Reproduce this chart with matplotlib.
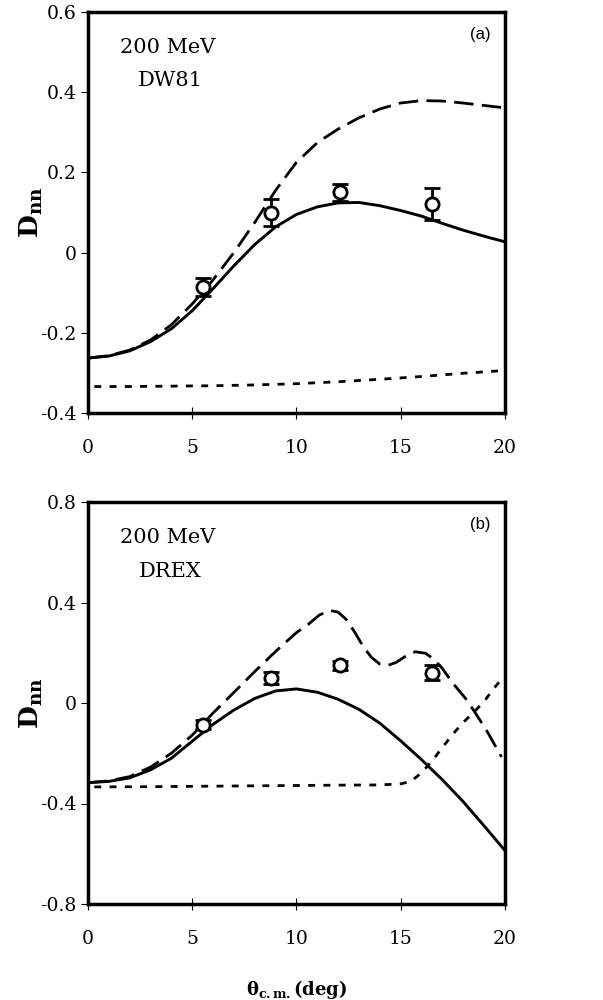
import numpy as np
import matplotlib
matplotlib.use("Agg")
import matplotlib.pyplot as plt

plt.rcParams['font.family'] = 'DejaVu Serif'
plt.rcParams['mathtext.fontset'] = 'dejavuserif'

# measured points (same in both panels)
theta_exp = [5.5, 8.8, 12.1, 16.5]
dnn_a = [-0.085, 0.100, 0.150, 0.121]
err_a = [0.022, 0.033, 0.022, 0.040]
dnn_b = [-0.087, 0.100, 0.150, 0.120]
err_b = [0.018, 0.025, 0.018, 0.030]

# panel (a) DW81 curves
xa = [0, 1, 2, 3, 4, 5, 6, 7, 8, 9, 10, 11, 12, 13, 14, 15, 16, 17, 18, 19, 20]
solid_a = [-0.263, -0.258, -0.245, -0.222, -0.190, -0.145, -0.090, -0.033, 0.020, 0.064,
           0.095, 0.114, 0.124, 0.125, 0.117, 0.105, 0.091, 0.073, 0.056, 0.041, 0.027]
dash_a = [-0.263, -0.257, -0.243, -0.218, -0.180, -0.128, -0.068, 0.000, 0.075, 0.155,
          0.225, 0.274, 0.308, 0.336, 0.358, 0.373, 0.379, 0.378, 0.373, 0.367, 0.361]
xa_dot = [0.3, 2, 4, 6, 8, 10, 12, 14, 16, 18, 20]
dot_a = [-0.334, -0.334, -0.333, -0.332, -0.330, -0.327, -0.322, -0.316, -0.309, -0.301, -0.294]

# panel (b) DREX curves
xb = [0, 1, 2, 3, 4, 5, 6, 7, 8, 9, 10, 11, 12, 13, 14, 15, 16, 17, 18, 19, 20]
solid_b = [-0.317, -0.312, -0.298, -0.266, -0.220, -0.152, -0.085, -0.028, 0.018, 0.048,
           0.056, 0.043, 0.015, -0.025, -0.080, -0.150, -0.225, -0.305, -0.392, -0.488, -0.586]
xb_dash = [0, 1, 2, 3, 4, 5, 6, 7, 8, 9, 10, 10.6, 11.1, 11.6, 12.0, 12.4, 12.8, 13.2,
           13.6, 14.0, 14.4, 14.8, 15.2, 15.7, 16.2, 16.6, 17.0, 17.5, 18.2, 19.1, 19.85]
dash_b = [-0.317, -0.310, -0.293, -0.255, -0.200, -0.128, -0.040, 0.042, 0.125, 0.205,
          0.280, 0.315, 0.350, 0.368, 0.362, 0.332, 0.282, 0.226, 0.182, 0.155, 0.150,
          0.162, 0.184, 0.204, 0.198, 0.174, 0.138, 0.080, 0.010, -0.105, -0.215]
xb_dot = [0.3, 3, 6, 9, 12, 14, 15, 15.5, 16, 16.5, 17, 17.5, 18, 18.5, 19, 19.5, 19.9]
dot_b = [-0.334, -0.333, -0.331, -0.329, -0.327, -0.326, -0.322, -0.312, -0.278, -0.232,
         -0.178, -0.125, -0.078, -0.038, 0.005, 0.060, 0.100]

fig = plt.figure(figsize=(6.03, 10), dpi=100)
ax1 = fig.add_axes([0.146, 0.587, 0.691, 0.401])
ax2 = fig.add_axes([0.146, 0.096, 0.691, 0.402])

panels = [
    (ax1, xa, solid_a, xa, dash_a, xa_dot, dot_a, dnn_a, err_a, 'DW81', '(a)',
     (-0.4, 0.6), np.arange(-0.4, 0.61, 0.2)),
    (ax2, xb, solid_b, xb_dash, dash_b, xb_dot, dot_b, dnn_b, err_b, 'DREX', '(b)',
     (-0.8, 0.8), np.arange(-0.8, 0.81, 0.4)),
]

for ax, xs, ys, xd, yd, xdt, ydt, yexp, eexp, model, tag, ylim, yt in panels:
    ax.plot(xs, ys, color='black', lw=2.1)
    ax.plot(xd, yd, color='black', lw=2.0, dashes=(7, 3))
    ax.plot(xdt, ydt, color='black', lw=2.0, dashes=(2.5, 3))
    ax.errorbar(theta_exp, yexp, yerr=eexp, fmt='o', mfc='white', mec='black',
                ms=9.5, mew=2, ecolor='black', elinewidth=2, capsize=6, capthick=2)

    ax.set_xlim(0, 20)
    ax.set_ylim(*ylim)
    ax.set_xticks([0, 5, 10, 15, 20])
    ax.set_yticks(yt)
    ax.set_yticklabels(['0' if abs(v) < 1e-9 else '%g' % round(v, 1) for v in yt])
    ax.tick_params(axis='x', direction='inout', length=9, width=0.8, pad=14, labelsize=13.5)
    ax.tick_params(axis='y', direction='out', length=5, width=0.8, pad=3, labelsize=13.5)
    for s in ax.spines.values():
        s.set_linewidth(2.5)

    ax.text(0.19, 0.912, '200 MeV', transform=ax.transAxes, fontsize=15, ha='center', va='center')
    ax.text(0.198, 0.828, model, transform=ax.transAxes, fontsize=15, ha='center', va='center')
    ax.text(0.942, 0.943, tag, transform=ax.transAxes, fontsize=12, family='Liberation Sans',
            ha='center', va='center')
    ax.set_ylabel(r'$\mathbf{D}_{\mathbf{nn}}$', fontsize=19, labelpad=-3)

ax2.set_xlabel(r'$\mathbf{\theta}_{\mathbf{c{.}m{.}}}\mathbf{(deg)}$', fontsize=13, labelpad=22)

fig.savefig('out.png', dpi=100)
